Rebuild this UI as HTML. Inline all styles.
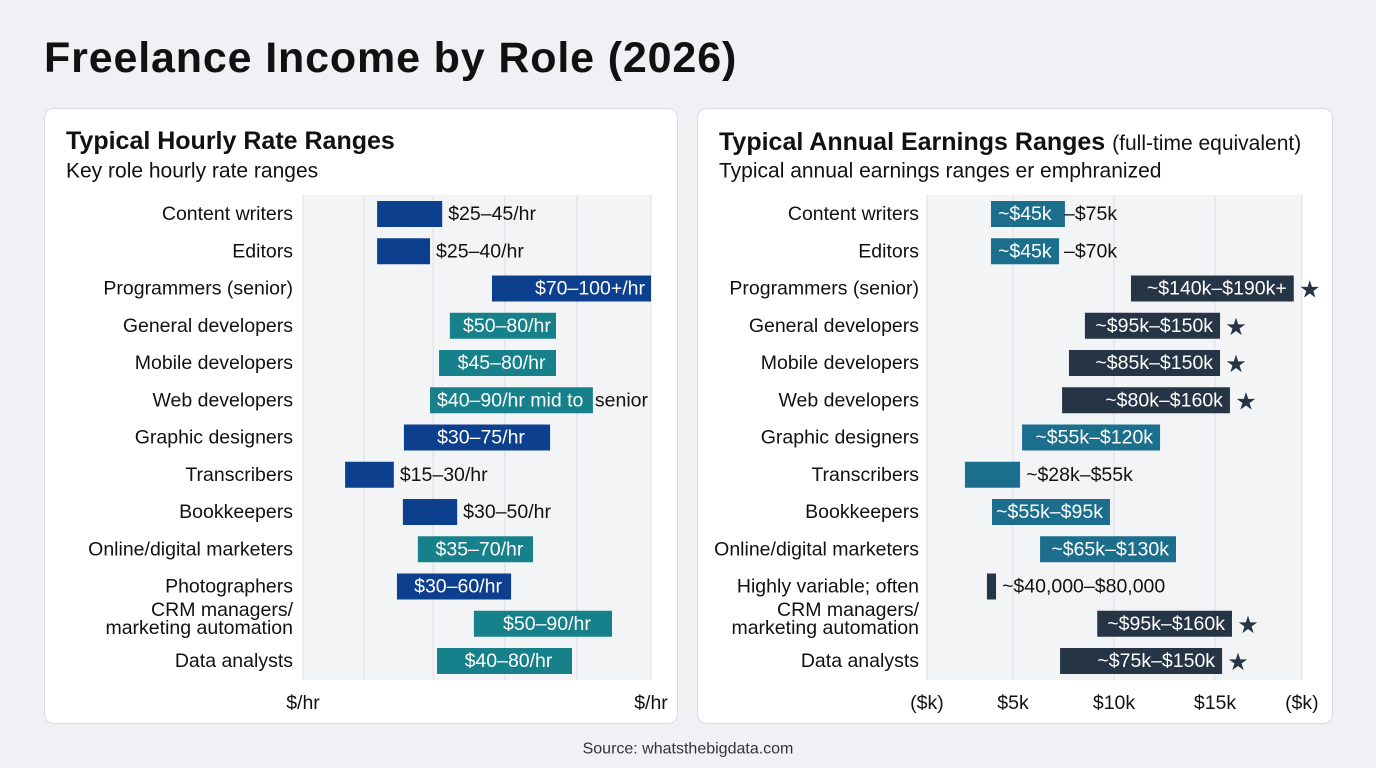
<!DOCTYPE html>
<html><head><meta charset="utf-8"><style>
body{margin:0;width:1376px;height:768px;background:#eff1f4;font-family:"Liberation Sans",sans-serif;overflow:hidden;position:relative}
.card{position:absolute;top:108px;width:634px;height:616px;background:#fff;border:1px solid #d9dde3;border-radius:10px;box-sizing:border-box}
h1{position:absolute;left:44px;top:34px;margin:0;font-size:43px;font-weight:900;color:#111;letter-spacing:0.85px}
svg{position:absolute;left:0;top:0}
</style></head><body>
<h1>Freelance Income by Role (2026)</h1>
<div class="card" style="left:44px"></div>
<div class="card" style="left:697px;width:636px"></div>
<svg id="s" width="1376" height="768"></svg>
<script>
const roles=["Content writers","Editors","Programmers (senior)","General developers","Mobile developers","Web developers","Graphic designers","Transcribers","Bookkeepers","Online/digital marketers","Photographers","CRM managers/|marketing automation","Data analysts"];
const rolesR=["Content writers","Editors","Programmers (senior)","General developers","Mobile developers","Web developers","Graphic designers","Transcribers","Bookkeepers","Online/digital marketers","Highly variable; often","CRM managers/|marketing automation","Data analysts"];
const hourStart=[21.3,21.3,54.3,42.2,39.1,36.5,29.0,12.1,28.7,33.0,27.0,49.1,38.5];
const hourEnd=[40.0,36.5,100,72.7,72.7,83.3,71.0,26.1,44.3,66.1,59.8,88.8,77.3];
const hourLabels=["$25–45/hr","$25–40/hr","$70–100+/hr","$50–80/hr","$45–80/hr","$40–90/hr mid to|senior","$30–75/hr","$15–30/hr","$30–50/hr","$35–70/hr","$30–60/hr","$50–90/hr","$40–80/hr"];
const hourInside=[0,0,1,1,1,1,1,0,0,1,1,1,1];
const hourTeal=[0,0,0,1,1,1,0,0,0,1,0,1,1];
const annStart=[3.91,3.91,10.84,8.56,7.77,7.43,5.45,2.62,3.96,6.34,3.71,9.17,7.33];
const annEnd=[7.57,7.28,18.9,15.25,15.25,15.74,12.28,5.35,9.80,13.07,4.16,15.84,15.35];
const annLabels=["~$45k|–$75k","~$45k|–$70k","~$140k–$190k+","~$95k–$150k","~$85k–$150k","~$80k–$160k","~$55k–$120k","~$28k–$55k","~$55k–$95k","~$65k–$130k","~$40,000–$80,000","~$95k–$160k","~$75k–$150k"];
const annDark=[0,0,1,1,1,1,0,0,0,0,1,1,1];
const annStar=[0,0,1,1,1,1,0,0,0,0,0,1,1];
const annInside=[2,2,1,1,1,1,1,0,1,1,0,1,1];
const annTicks=[5,10,15];
const annTickLabels=["$5k","$10k","$15k"];

const S=document.getElementById('s'),NS="http://www.w3.org/2000/svg";
function el(t,a,txt){const e=document.createElementNS(NS,t);for(const k in a)e.setAttribute(k,a[k]);if(txt!=null)e.textContent=txt;S.appendChild(e);return e;}
const y=i=>214+i*37.25;
function hx(v){return 303+v*3.48;}
function ax(v){return 912+v*20.2;}
function txt(x,yy,s,o){return el('text',Object.assign({x:x,y:yy,'font-size':19.5,fill:'#111','dominant-baseline':'central','font-family':'Liberation Sans, sans-serif'},o||{}),s);}

let t;
t=txt(66,141,"Typical Hourly Rate Ranges",{'font-size':25,'font-weight':'bold'});
t=txt(66,171,"Key role hourly rate ranges",{'font-size':21});
t=el('text',{x:719,y:150,'font-size':25,'font-weight':'bold',fill:'#111'});t.innerHTML='Typical Annual Earnings Ranges <tspan font-weight="normal" font-size="21">(full-time equivalent)</tspan>';

t=txt(719,171,"Typical annual earnings ranges er emphranized",{'font-size':21});

let r=el('rect',{x:303,y:195,width:348,height:485,fill:'#f3f4f6'});
r=el('rect',{x:927,y:195,width:375,height:485,fill:'#f3f4f6'});
[0,17.5,37.4,58,78.7,100].forEach(v=>{const g=el('line',{x1:hx(v),x2:hx(v),y1:195,y2:680,stroke:'#dcdfe4'});});
[ax(0.74),ax(19.3)].concat(annTicks.map(ax)).forEach(xx=>{const g=el('line',{x1:xx,x2:xx,y1:195,y2:680,stroke:'#dcdfe4'});});

function cat(xr,i,s){const p=s.split('|');let e;if(p.length>1){e=txt(xr,y(i)-14,p[0],{'text-anchor':'end'});const e2=txt(xr,y(i)+4,p[1],{'text-anchor':'end'});}else e=txt(xr,y(i),s,{'text-anchor':'end'});
}

roles.forEach((n,i)=>{
 cat(293,i,n);
 const x0=hx(hourStart[i]),x1=hx(hourEnd[i]);
 const b=el('rect',{x:x0,y:y(i)-13,width:x1-x0,height:26,fill:hourTeal[i]?'#16818a':'#0c3f8e'});
 
 const lab=hourLabels[i].split('|');let l;
 if(lab.length>1){l=txt(x0+7,y(i),lab[0],{fill:'#fff'});const l2=txt(x1+2,y(i),lab[1]);}
 else if(hourInside[i]) l=(i==2)?txt(x1-6,y(i),lab[0],{fill:'#fff','text-anchor':'end'}):txt((x0+x1)/2+4,y(i),lab[0],{fill:'#fff','text-anchor':'middle'});
 else l=txt(x1+6,y(i),lab[0]);
 
});
rolesR.forEach((n,i)=>{
 cat(919,i,n);
 const x0=ax(annStart[i]),x1=ax(annEnd[i]);
 const b=el('rect',{x:x0,y:y(i)-13,width:x1-x0,height:26,fill:annDark[i]?'#263545':'#1b6f8c'});
 
 const lab=annLabels[i].split('|');let l;
 if(annInside[i]==2){l=txt(x0+7,y(i),lab[0],{fill:'#fff'});const l2=txt(x0+73,y(i),lab[1]);}
 else if(annInside[i]) l=txt(x1-7,y(i),lab[0],{fill:'#fff','text-anchor':'end'});
 else l=txt(x1+6,y(i),lab[0]);
 
 if(annStar[i]){const s=txt(x1+16,y(i)+1,"★",{'text-anchor':'middle',fill:'#263545','font-size':24,'font-family':'DejaVu Sans, sans-serif'});}
});
[[303,"$/hr"],[651,"$/hr"]].forEach(a=>{const e=txt(a[0],703,a[1],{'text-anchor':'middle'});});
[[ax(0.74),"($k)"],[ax(19.3),"($k)"]].forEach(a=>{const e=txt(a[0],703,a[1],{'text-anchor':'middle'});});
annTicks.forEach((v,i)=>{const e=txt(ax(v),703,annTickLabels[i],{'text-anchor':'middle'});});
t=txt(688,749,"Source: whatsthebigdata.com",{'text-anchor':'middle','font-size':16,fill:'#333'});
</script>
</body></html>
